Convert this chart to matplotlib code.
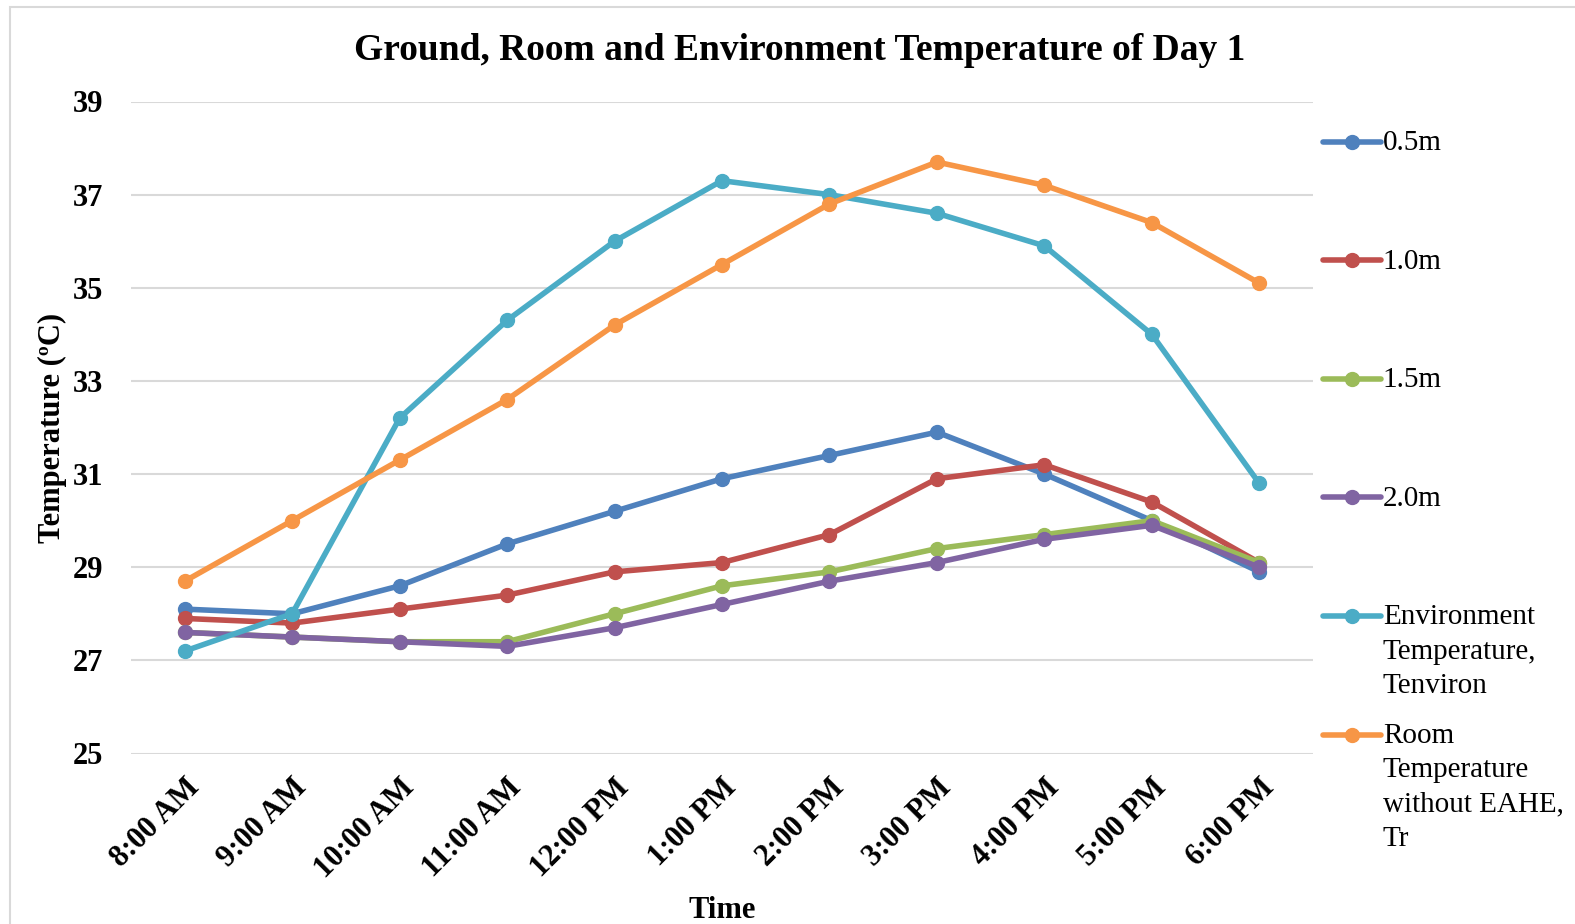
import matplotlib
matplotlib.use("Agg")
import matplotlib.pyplot as plt
from matplotlib.patches import Rectangle

times = ["8:00 AM", "9:00 AM", "10:00 AM", "11:00 AM", "12:00 PM", "1:00 PM",
         "2:00 PM", "3:00 PM", "4:00 PM", "5:00 PM", "6:00 PM"]

depth_05 = [28.1, 28.0, 28.6, 29.5, 30.2, 30.9, 31.4, 31.9, 31.0, 30.0, 28.9]
depth_10 = [27.9, 27.8, 28.1, 28.4, 28.9, 29.1, 29.7, 30.9, 31.2, 30.4, 29.1]
depth_15 = [27.6, 27.5, 27.4, 27.4, 28.0, 28.6, 28.9, 29.4, 29.7, 30.0, 29.1]
depth_20 = [27.6, 27.5, 27.4, 27.3, 27.7, 28.2, 28.7, 29.1, 29.6, 29.9, 29.0]
t_environ = [27.2, 28.0, 32.2, 34.3, 36.0, 37.3, 37.0, 36.6, 35.9, 34.0, 30.8]
t_room = [28.7, 30.0, 31.3, 32.6, 34.2, 35.5, 36.8, 37.7, 37.2, 36.4, 35.1]

series_labels = ["0.5m", "1.0m", "1.5m", "2.0m",
                 "Environment\nTemperature,\nTenviron",
                 "Room\nTemperature\nwithout EAHE,\nTr"]
series_values = [depth_05, depth_10, depth_15, depth_20, t_environ, t_room]
series_colors = ["#4F81BD", "#C0504D", "#9BBB59", "#8064A2", "#4BACC6", "#F79646"]

y_ticks = [25, 27, 29, 31, 33, 35, 37, 39]

plt.rcParams["font.family"] = ["Liberation Serif", "DejaVu Serif"]

W, H = 1575, 924
fig = plt.figure(figsize=(W / 100, H / 100), dpi=100)
ax = fig.add_axes([131 / W, 1 - 753.5 / H, (1313 - 131) / W, (753.5 - 101.5) / H])

# outer chart frame
fig.patches.append(Rectangle((10 / W, -0.1), 1.2, 1.1 - 7 / H, transform=fig.transFigure,
                             fill=False, edgecolor="#D9D9D9", linewidth=1.5))

x = list(range(len(times)))
lines = []
for vals, col in zip(series_values, series_colors):
    ln, = ax.plot(x, vals, color=col, linewidth=4, marker="o", markersize=10,
                  solid_capstyle="round", solid_joinstyle="round", zorder=3)
    lines.append(ln)

ax.set_xlim(-0.5, len(times) - 0.5)
ax.set_ylim(25, 39)
ax.set_yticks(y_ticks)
ax.set_xticks(x)
ax.set_xticklabels(times, rotation=45, ha="right", rotation_mode="anchor",
                   fontsize=22, fontweight="bold")
ax.set_yticklabels([str(v) for v in y_ticks], fontsize=22, fontweight="bold")
ax.tick_params(axis="both", length=0)
ax.tick_params(axis="y", pad=20)
ax.tick_params(axis="x", pad=14)
ax.grid(axis="y", color="#D9D9D9", linewidth=1.5)
ax.set_axisbelow(True)
for s in ax.spines.values():
    s.set_visible(False)

# chart title centred on the whole chart area
fig.text(800 / W, 1 - 50 / H, "Ground, Room and Environment Temperature of Day 1",
         fontsize=27, fontweight="bold", ha="center", va="center")
ax.set_xlabel("Time", fontsize=22, fontweight="bold", labelpad=9)
ax.set_ylabel("Temperature (ºC)", fontsize=22, fontweight="bold", labelpad=4)

# legend entries stacked at equal slots down the right side
top = 1 - 130 / H
step = 118.6 / H
for i, (ln, lab) in enumerate(zip(lines, series_labels)):
    leg = fig.legend([ln], [lab], loc="upper left",
                     bbox_to_anchor=(1323 / W, top - i * step),
                     frameon=False, fontsize=21, handlelength=2.0,
                     handletextpad=0.05, borderpad=0, borderaxespad=0,
                     handleheight=1.0)
    for t in leg.get_texts():
        t.set_linespacing(1.42)
    for col in leg._legend_handle_box.get_children():
        for item in col.get_children():
            item.align = "top"

fig.savefig("out.png", dpi=100)
